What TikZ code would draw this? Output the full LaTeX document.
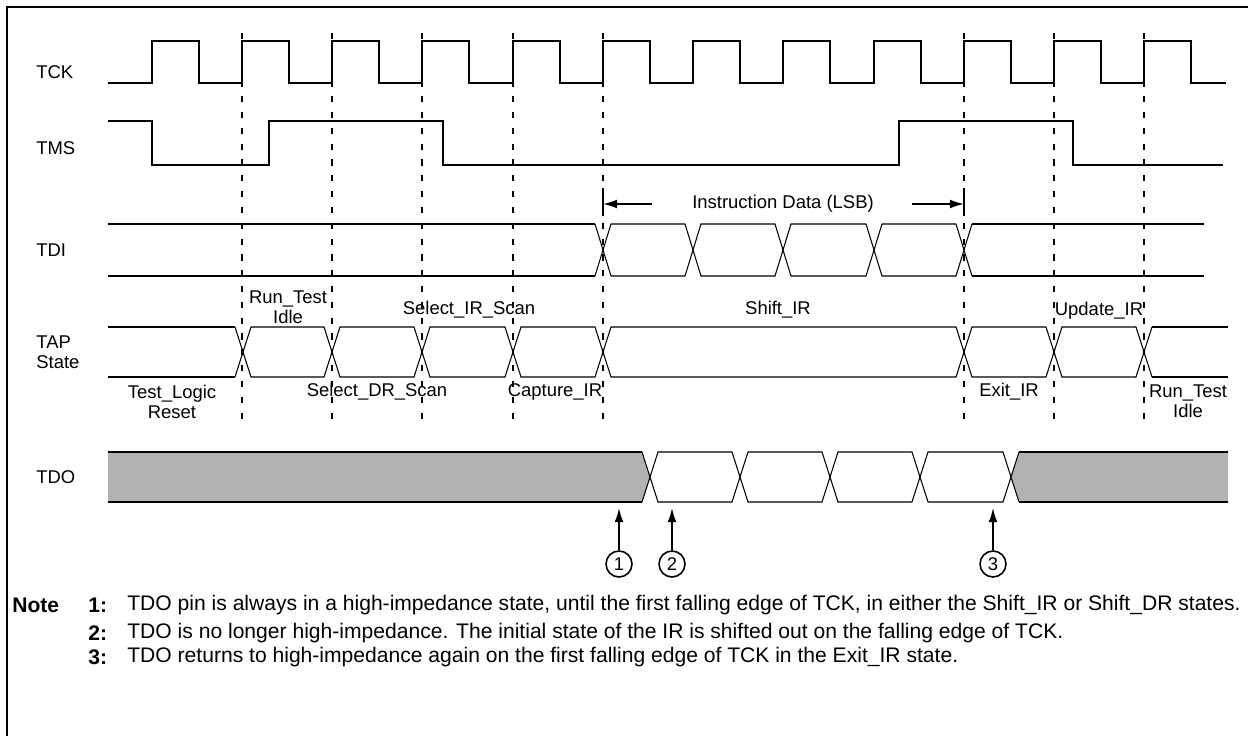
\documentclass[tikz,border=0pt]{standalone}
\usepackage{fontspec}
\setmainfont{Liberation Sans}
\usetikzlibrary{arrows.meta,positioning}
\definecolor{hizgray}{gray}{0.70}

\begin{document}
\begin{tikzpicture}[
    x=0.02cm, y=-0.02cm,
    >={Latex[length=8pt,width=5pt]},
    font=\fontsize{10.5}{11.5}\selectfont,
    sig/.style={line width=1.1pt},
    bus/.style={line width=0.6pt},
    guide/.style={line width=0.8pt, dash pattern=on 3.5pt off 5.5pt},
    lbl/.style={anchor=west, inner sep=0pt},
    state/.style={align=center, inner sep=0pt},
    notetxt/.style={anchor=west, inner sep=0pt, font=\fontsize{12}{13}\selectfont},
    callout/.style={draw, circle, line width=0.9pt, minimum size=0.52cm, inner sep=0pt}
]
\useasboundingbox (0,0) rectangle (1248,736);
\draw[line width=1.4pt] (7,7) rectangle (1290,790);

% clock edges
\foreach \x in {242,332,422,513,603,964,1054,1144}
  \draw[guide] (\x,33) -- (\x,420);

% TCK / TMS
\draw[sig] (108,83) \foreach \r in {152,242,332,422,513,603,693,783,874,964,1054,1144} { -- (\r,83) -- (\r,41) -- (\r+47,41) -- (\r+47,83) } -- (1226,83);
\draw[sig] (108,121) -- (152,121) -- (152,165) -- (269,165) -- (269,121) -- (443,121) -- (443,165)
  -- (899,165) -- (899,121) -- (1073,121) -- (1073,165) -- (1223,165);

% TDI
\draw[sig] (108,224) -- (595,224);
\draw[sig] (108,276) -- (595,276);
\draw[bus] (595,224) -- (603,250) -- (595,276);
\foreach \a/\b in {603/693,693/783,783/874,874/964}
  \draw[bus] (\a,250) -- (\a+8,224) -- (\b-8,224) -- (\b,250) -- (\b-8,276) -- (\a+8,276) -- cycle;
\draw[bus] (972,224) -- (964,250) -- (972,276);
\draw[sig] (972,224) -- (1204,224);
\draw[sig] (972,276) -- (1204,276);

% TAP state
\draw[sig] (108,327) -- (235,327);
\draw[sig] (108,377) -- (235,377);
\draw[bus] (235,327) -- (243,352) -- (235,377);
\foreach \a/\b in {243/332,332/422,422/513,513/603,603/964,964/1054,1054/1144}
  \draw[bus] (\a,352) -- (\a+8,327) -- (\b-8,327) -- (\b,352) -- (\b-8,377) -- (\a+8,377) -- cycle;
\draw[bus] (1152,327) -- (1144,352) -- (1152,377);
\draw[sig] (1152,327) -- (1228,327);
\draw[sig] (1152,377) -- (1228,377);

% TDO
\fill[hizgray] (108,452) -- (642,452) -- (650,477) -- (642,502) -- (108,502) -- cycle;
\draw[sig] (108,452) -- (642,452);
\draw[sig] (108,502) -- (642,502);
\draw[bus] (642,452) -- (650,477) -- (642,502);
\foreach \a/\b in {650/740,740/830,830/920,920/1011}
  \draw[bus] (\a,477) -- (\a+8,452) -- (\b-8,452) -- (\b,477) -- (\b-8,502) -- (\a+8,502) -- cycle;
\fill[hizgray] (1228,452) -- (1019,452) -- (1011,477) -- (1019,502) -- (1228,502) -- cycle;
\draw[bus] (1019,452) -- (1011,477) -- (1019,502);
\draw[sig] (1019,452) -- (1228,452);
\draw[sig] (1019,502) -- (1228,502);

% signal names
\node[lbl] (tcklbl) at (36,72) {TCK};
\node[lbl] (tmslbl) at (36,148) {TMS};
\node[lbl] (tdilbl) at (36,250) {TDI};
\node[lbl, align=left] (taplbl) at (36,352) {TAP\\State};
\node[lbl] (tdolbl) at (36,477) {TDO};

% instruction data
\node[state] (idata) at (783,204) {Instruction Data (LSB)};
\coordinate (idl) at (652,204);
\coordinate (ida) at (603,204);
\coordinate (idr) at (912,204);
\coordinate (idb) at (964,204);
\draw[->, line width=0.8pt] (idl) -- (ida);
\draw[->, line width=0.8pt] (idr) -- (idb);
\draw[bus] (603,188) -- (603,216);
\draw[bus] (964,188) -- (964,216);

% states
\node[state] (rti1) at (288,307) {Run\_Test\\Idle};
\node[state] (selir) at (469,310) {Select\_IR\_Scan};
\node[state] (shiftir) at (778,310) {Shift\_IR};
\node[state] (updir) at (1099,311) {Update\_IR};
\node[state] (tlr) at (172,402) {Test\_Logic\\Reset};
\node[state] (seldr) at (377,392) {Select\_DR\_Scan};
\node[state] (capir) at (555,392) {Capture\_IR};
\node[state] (exitir) at (1009,392) {Exit\_IR};
\node[state] (rti2) at (1188,401) {Run\_Test\\Idle};

% callouts
\node[callout] (c1) at (619,564) {1};
\node[callout] (c2) at (672,564) {2};
\node[callout] (c3) at (993,564) {3};
\coordinate (p1) at (619,508);
\coordinate (p2) at (672,508);
\coordinate (p3) at (993,508);
\draw[->, line width=0.9pt] (c1) -- (p1);
\draw[->, line width=0.9pt] (c2) -- (p2);
\draw[->, line width=0.9pt] (c3) -- (p3);

% notes
\node[notetxt] (nhead) at (12,605) {\bfseries Note};
\node[notetxt] (n1num) at (88,605) {\bfseries 1:};
\node[notetxt] (n1) at (127,605) {TDO pin is always in a high-impedance state, until the first falling edge of TCK, in either the Shift\_IR or Shift\_DR states.};
\node[notetxt] (n2num) at (88,633) {\bfseries 2:};
\node[notetxt] (n2) at (127,633) {TDO is no longer high-impedance. The initial state of the IR is shifted out on the falling edge of TCK.};
\node[notetxt] (n3num) at (88,657) {\bfseries 3:};
\node[notetxt] (n3) at (127,657) {TDO returns to high-impedance again on the first falling edge of TCK in the Exit\_IR state.};
\end{tikzpicture}
\end{document}
